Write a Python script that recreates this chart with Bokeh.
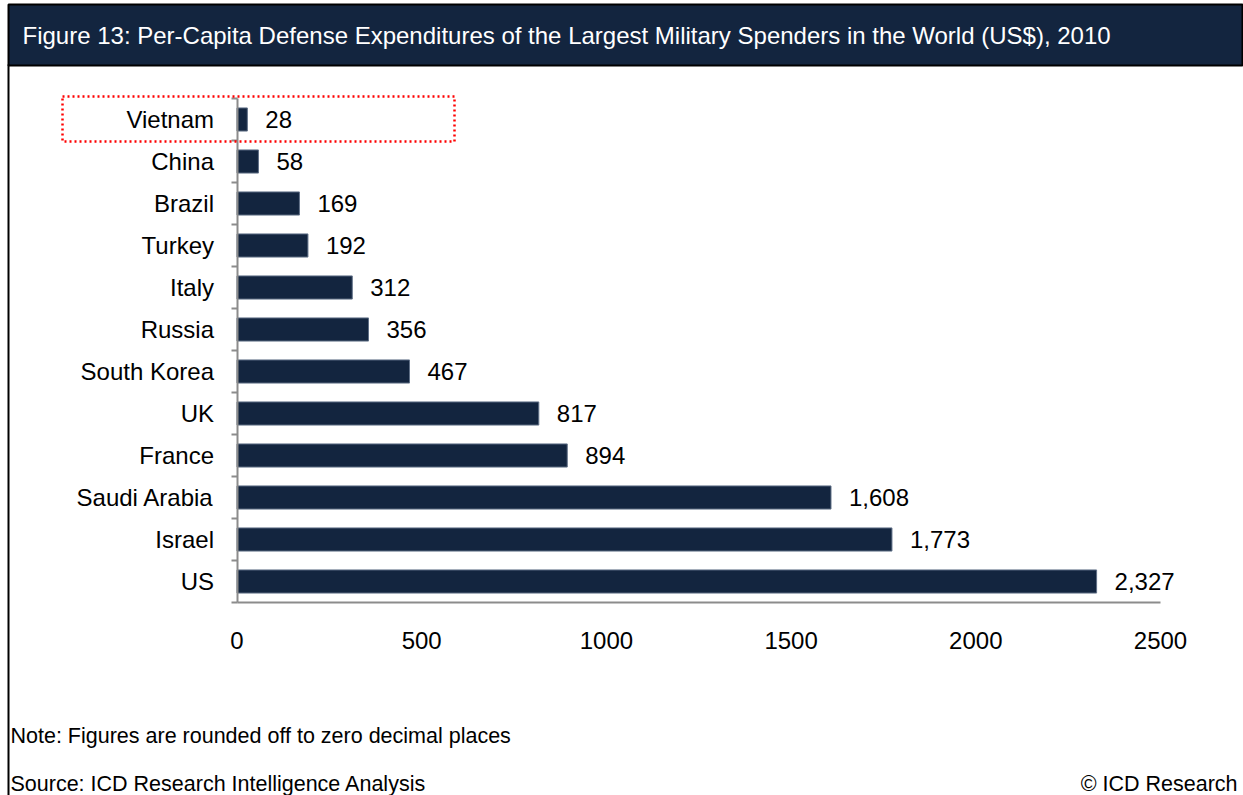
from bokeh.plotting import figure
from bokeh.models import Range1d, FixedTicker, BoxAnnotation, Label, ColumnDataSource
from bokeh.embed import file_html
from bokeh.resources import INLINE

countries = ["Vietnam", "China", "Brazil", "Turkey", "Italy", "Russia", "South Korea",
             "UK", "France", "Saudi Arabia", "Israel", "US"]
values = [28, 58, 169, 192, 312, 356, 467, 817, 894, 1608, 1773, 2327]
x_ticks = [0, 500, 1000, 1500, 2000, 2500]

title_text = "Figure 13: Per-Capita Defense Expenditures of the Largest Military Spenders in the World (US$), 2010"
note_text = "Note: Figures are rounded off to zero decimal places"
source_text = "Source: ICD Research Intelligence Analysis"
copy_text = "\u00a9 ICD Research"

FONT = "Liberation Sans"
NAVY = "#13253f"
GREY = "#8c8c8c"

n = len(countries)
pos = [i + 0.5 for i in range(n)]
src = ColumnDataSource(dict(y=pos, v=values, lab=[f"{v:,}" for v in values]))

W, H = 1243, 795
# pixel placement of the plotting area inside the canvas
PX0, PX1 = 236.5, 1160.0   # x pixels of 0 and 2500
PY0, PY1 = 98.0, 602.0     # y pixels of top and bottom category edge
XMAX = x_ticks[-1]
ux = XMAX / (PX1 - PX0)
uy = n / (PY1 - PY0)
x_range = Range1d(-PX0 * ux, XMAX + (W - PX1) * ux)
y_range = Range1d(n + (H - PY1) * uy, -PY0 * uy)

p = figure(width=W, height=H, x_range=x_range, y_range=y_range,
           min_border=0, output_backend="svg", toolbar_location=None)
p.outline_line_color = None
p.grid.visible = False
p.background_fill_color = "white"
p.border_fill_color = "white"

# header bar and frame borders (canvas units)
p.add_layout(BoxAnnotation(left=8, right=W - 1, top=4, bottom=65,
                           left_units="canvas", right_units="canvas",
                           top_units="canvas", bottom_units="canvas",
                           fill_color=NAVY, fill_alpha=1, line_color="black",
                           line_alpha=1, line_width=2, level="underlay"))
p.add_layout(BoxAnnotation(left=7, right=9, top=64, bottom=H + 10,
                           left_units="canvas", right_units="canvas",
                           top_units="canvas", bottom_units="canvas",
                           fill_color="black", fill_alpha=1, line_color=None,
                           level="underlay"))

p.hbar(y="y", right="v", left=0, height=0.55, source=src, fill_color=NAVY,
       line_color="#5f6f86", line_width=1)
p.text(x="v", y="y", text="lab", source=src, x_offset=18, text_baseline="middle",
       text_align="left", text_font_size="24px", text_color="black",
       text_font={"value": FONT})

# axes, pinned inside the frame
xa = p.xaxis[0]
xa.fixed_location = n
xa.bounds = (0, XMAX)
xa.ticker = FixedTicker(ticks=x_ticks)
xa.major_tick_out = 0
xa.major_tick_in = 0
xa.minor_tick_out = 0
xa.axis_line_color = GREY
xa.axis_line_width = 2
xa.major_label_text_font = FONT
xa.major_label_text_font_size = "24px"
xa.major_label_text_color = "black"
xa.major_label_standoff = 29

ya = p.yaxis[0]
ya.fixed_location = 0
ya.bounds = (0, n)
ya.ticker = FixedTicker(ticks=pos, minor_ticks=list(range(n + 1)))
ya.major_label_overrides = {pv: c for pv, c in zip(pos, countries)}
ya.major_tick_out = 0
ya.major_tick_in = 0
ya.minor_tick_out = 6
ya.minor_tick_in = 0
ya.minor_tick_line_color = GREY
ya.minor_tick_line_width = 2
ya.axis_line_color = GREY
ya.axis_line_width = 2
ya.major_label_text_font = FONT
ya.major_label_text_font_size = "24px"
ya.major_label_text_color = "black"
ya.major_label_standoff = 17

# highlight box
p.add_layout(BoxAnnotation(left=62, right=454, top=96, bottom=141,
                           left_units="canvas", right_units="canvas",
                           top_units="canvas", bottom_units="canvas",
                           fill_alpha=0, line_color="#ff0000", line_alpha=1,
                           line_width=2.5, line_dash="2 3", level="overlay"))

def lab(txt, cx, cy, color="black", align="left", size="21.5px"):
    p.add_layout(Label(x=cx, y=H - cy, x_units="screen", y_units="screen", text=txt,
                       text_font=FONT, text_font_size=size, text_color=color,
                       text_baseline="middle", text_align=align, level="overlay"))

lab(title_text, 22, 35, color="white", size="24px")
lab(note_text, 10, 735)
lab(source_text, 10, 783)
lab(copy_text, 1237, 783, align="right")

open("out.html", "w").write(file_html(p, INLINE))
